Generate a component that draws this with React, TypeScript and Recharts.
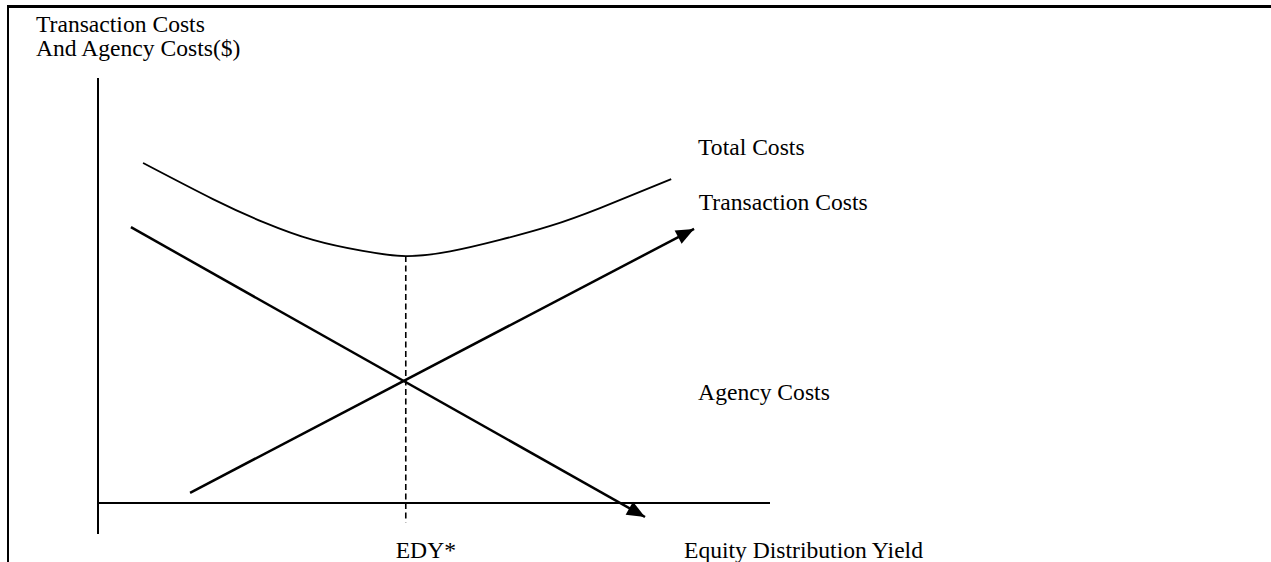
import React from "react";
import { ComposedChart, Line, XAxis, YAxis, ReferenceLine, ReferenceDot } from "recharts";

// Layout (pixels) of the chart area: origin of the drawn axes and scale.
const W = 1271;
const H = 562;
const ORIGIN_X = 98;
const ORIGIN_Y = 503;
const PX_PER_X = 67.2;
const PX_PER_Y = 42.5;
const X_DOMAIN: [number, number] = [-ORIGIN_X / PX_PER_X, (W - ORIGIN_X) / PX_PER_X];
const Y_DOMAIN: [number, number] = [-(H - ORIGIN_Y) / PX_PER_Y, ORIGIN_Y / PX_PER_Y];

// Data (abstract units: EDY on x, costs on y)
const totalCostX = [0.67, 1.71, 2.46, 3.2, 3.94, 4.58, 5.24, 5.98, 6.73, 7.47, 8.53];
const totalCostY = [8.0, 7.15, 6.61, 6.19, 5.93, 5.81, 5.92, 6.19, 6.52, 6.94, 7.62];
const agencyX = [0.49, 8.14];
const agencyY = [6.49, -0.33];
const transactionX = [1.37, 8.87];
const transactionY = [0.24, 6.45];
const edyStar = 4.58;
const edyTop = 5.81;
const edyBottom = -0.45;
const xAxisRange = [0, 10];
const yAxisRange = [-0.73, 10];

const labelTexts = [
  "Transaction Costs",
  "And Agency Costs($)",
  "Total Costs",
  "Transaction Costs",
  "Agency Costs",
  "EDY*",
  "Equity Distribution Yield",
];
const labelX = [-0.923, -0.923, 8.93, 8.94, 8.93, 4.43, 8.72];
const labelY = [11.08, 10.52, 8.19, 6.89, 2.42, -1.29, -1.29];

const zip = (xs: number[], ys: number[]) => xs.map((x, i) => ({ x, y: ys[i] }));
const totalData = zip(totalCostX, totalCostY);
const agencyData = zip(agencyX, agencyY);
const transactionData = zip(transactionX, transactionY);

const FONT = "'Liberation Serif', 'Times New Roman', serif";

const makeArrow = (data: { x: number; y: number }[]) => (props: any) => {
  const { cx, cy, index } = props;
  if (index !== data.length - 1 || cx == null) return <g key={`d${index}`} />;
  const a = data[data.length - 2];
  const b = data[data.length - 1];
  const dx = (b.x - a.x) * PX_PER_X;
  const dy = -(b.y - a.y) * PX_PER_Y;
  const len = Math.sqrt(dx * dx + dy * dy);
  const ux = dx / len;
  const uy = dy / len;
  const L = 18;
  const hw = 7.5;
  const bx = cx - ux * L;
  const by = cy - uy * L;
  const p1 = `${cx},${cy}`;
  const p2 = `${bx - uy * hw},${by + ux * hw}`;
  const p3 = `${bx + uy * hw},${by - ux * hw}`;
  return <polygon key={`d${index}`} points={`${p1} ${p2} ${p3}`} fill="#000" stroke="none" />;
};

const TextShape = (text: string) => (props: any) => (
  <text x={props.cx} y={props.cy} fontFamily={FONT} fontSize={23.6} fill="#000" textAnchor="start">
    {text}
  </text>
);

export default function App() {
  return (
    <div style={{ position: "absolute", left: 0, top: 0, width: W, height: H, background: "#fff" }}>
      <div
        style={{
          position: "absolute",
          left: 7,
          top: 5,
          width: W - 7,
          height: H - 5,
          borderTop: "3px solid #000",
          borderLeft: "2px solid #000",
          boxSizing: "border-box",
        }}
      />
      <div style={{ position: "absolute", left: 0, top: 0 }}>
        <ComposedChart width={W} height={H} margin={{ top: 0, right: 0, bottom: 0, left: 0 }}>
          <XAxis type="number" dataKey="x" domain={X_DOMAIN} allowDataOverflow hide />
          <YAxis type="number" dataKey="y" domain={Y_DOMAIN} allowDataOverflow hide />
          <ReferenceLine
            segment={[{ x: 0, y: yAxisRange[1] }, { x: 0, y: yAxisRange[0] }]}
            stroke="#000"
            strokeWidth={2}
            ifOverflow="visible"
          />
          <ReferenceLine
            segment={[{ x: xAxisRange[0], y: 0 }, { x: xAxisRange[1], y: 0 }]}
            stroke="#000"
            strokeWidth={2}
            ifOverflow="visible"
          />
          <ReferenceLine
            segment={[{ x: edyStar, y: edyTop }, { x: edyStar, y: edyBottom }]}
            stroke="#000"
            strokeWidth={1.6}
            strokeDasharray="6 3.5"
            ifOverflow="visible"
          />
          <Line
            data={totalData}
            dataKey="y"
            type="natural"
            stroke="#000"
            strokeWidth={1.8}
            dot={false}
            activeDot={false}
            isAnimationActive={false}
          />
          <Line
            data={agencyData}
            dataKey="y"
            type="linear"
            stroke="#000"
            strokeWidth={2.5}
            dot={makeArrow(agencyData)}
            activeDot={false}
            isAnimationActive={false}
          />
          <Line
            data={transactionData}
            dataKey="y"
            type="linear"
            stroke="#000"
            strokeWidth={2.5}
            dot={makeArrow(transactionData)}
            activeDot={false}
            isAnimationActive={false}
          />
          {labelTexts.map((t, i) => (
            <ReferenceDot
              key={`lbl${i}`}
              x={labelX[i]}
              y={labelY[i]}
              r={0}
              ifOverflow="visible"
              shape={TextShape(t)}
            />
          ))}
        </ComposedChart>
      </div>
    </div>
  );
}
